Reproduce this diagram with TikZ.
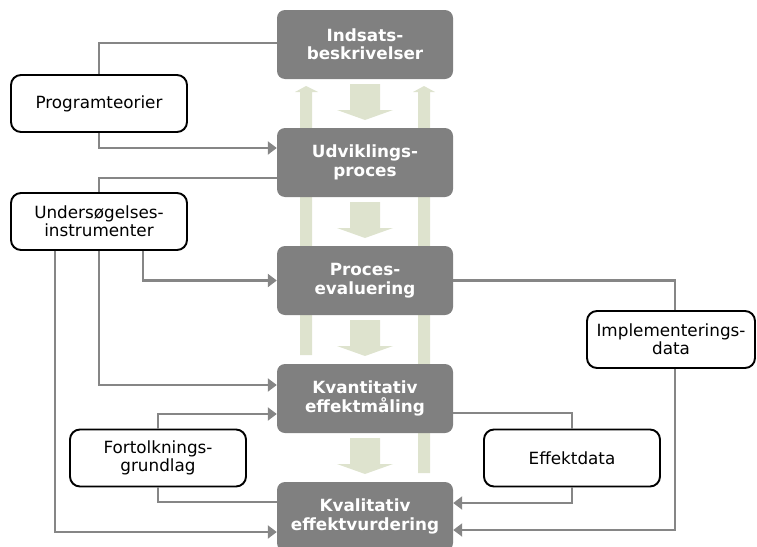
\documentclass[tikz,border=0pt]{standalone}
\usepackage{fontspec}
\setmainfont{DejaVu Sans}
\usetikzlibrary{arrows.meta}
\definecolor{boxgray}{HTML}{808080}
\definecolor{linegray}{HTML}{868686}
\definecolor{flowgreen}{HTML}{DEE3CE}
\tikzset{
  graybox/.style={fill=boxgray, rounded corners=8pt, text=white,
    font=\fontsize{16.8}{18.4}\selectfont\bfseries, minimum width=176pt,
    minimum height=69pt, align=center, inner sep=0pt},
  whitebox/.style={draw=black, line width=1.9pt, rounded corners=10pt, fill=white,
    font=\fontsize{16.8}{18.4}\selectfont, minimum width=176pt,
    minimum height=57pt, align=center, inner sep=0pt},
  conn/.style={draw=linegray, line width=2.1pt},
  arr/.style={conn, -{Triangle[length=9pt,width=13pt]}},
  flow/.style={fill=flowgreen, draw=none}
}
\begin{document}
\begin{tikzpicture}[x=1pt,y=-1pt]
\useasboundingbox (0,0) rectangle (757,546);
\clip (0,0) rectangle (757,546);
% green flow arrows (behind)
\fill[flow] (300,355) -- (300,92) -- (295,92) -- (306,86) -- (318,92) -- (312,92) -- (312,355) -- cycle;
\fill[flow] (418,473) -- (418,92) -- (413,92) -- (424,86) -- (435,92) -- (430,92) -- (430,473) -- cycle;
\foreach \t in {84,202,320,438}{
  \fill[flow] (350,\t) -- (380,\t) -- (380,\t+26) -- (393,\t+26) -- (365,\t+36) -- (337,\t+26) -- (350,\t+26) -- cycle;
}
% gray boxes
\node[graybox] (inds) at (365,44.5) {Indsats-\\beskrivelser};
\node[graybox] (udv) at (365,162.5) {Udviklings-\\proces};
\node[graybox] (proc) at (365,280.5) {Proces-\\evaluering};
\node[graybox] (kvan) at (365,398.5) {Kvantitativ\\effektmåling};
\node[graybox] (kval) at (365,516.5) {Kvalitativ\\effektvurdering};
% white boxes
\node[whitebox] (prog) at (99,103.5) {Programteorier};
\node[whitebox] (unders) at (99,221.5) {Undersøgelses-\\instrumenter};
\node[whitebox] (fort) at (158,458) {Fortolknings-\\grundlag};
\node[whitebox] (eff) at (572,458) {Effektdata};
\node[whitebox, minimum width=168pt] (impl) at (671,339.5) {Implementerings-\\data};
% connectors
\draw[conn] (prog.north) |- ([yshift=1.5pt]inds.west);
\draw[arr] (prog.south) |- ([yshift=14.5pt]udv.west);
\draw[conn] ([yshift=-15.5pt]udv.west) -| (unders.north);
\draw[arr] ([xshift=44pt]unders.south) |- (proc.west);
\draw[arr] (unders.south) |- ([yshift=13.5pt]kvan.west);
\draw[arr] ([xshift=-44pt]unders.south) |- ([yshift=-15.5pt]kval.west);
\draw[arr] (fort.north) |- ([yshift=-15.5pt]kvan.west);
\draw[conn] (fort.south) |- ([yshift=14.5pt]kval.west);
\draw[conn] (proc.east) -| ([xshift=4pt]impl.north);
\draw[arr] ([xshift=4pt]impl.south) |- ([yshift=-13.5pt]kval.east);
\draw[conn] ([yshift=-14.5pt]kvan.east) -| (eff.north);
\draw[arr] (eff.south) |- ([yshift=13.5pt]kval.east);
\end{tikzpicture}
\end{document}
